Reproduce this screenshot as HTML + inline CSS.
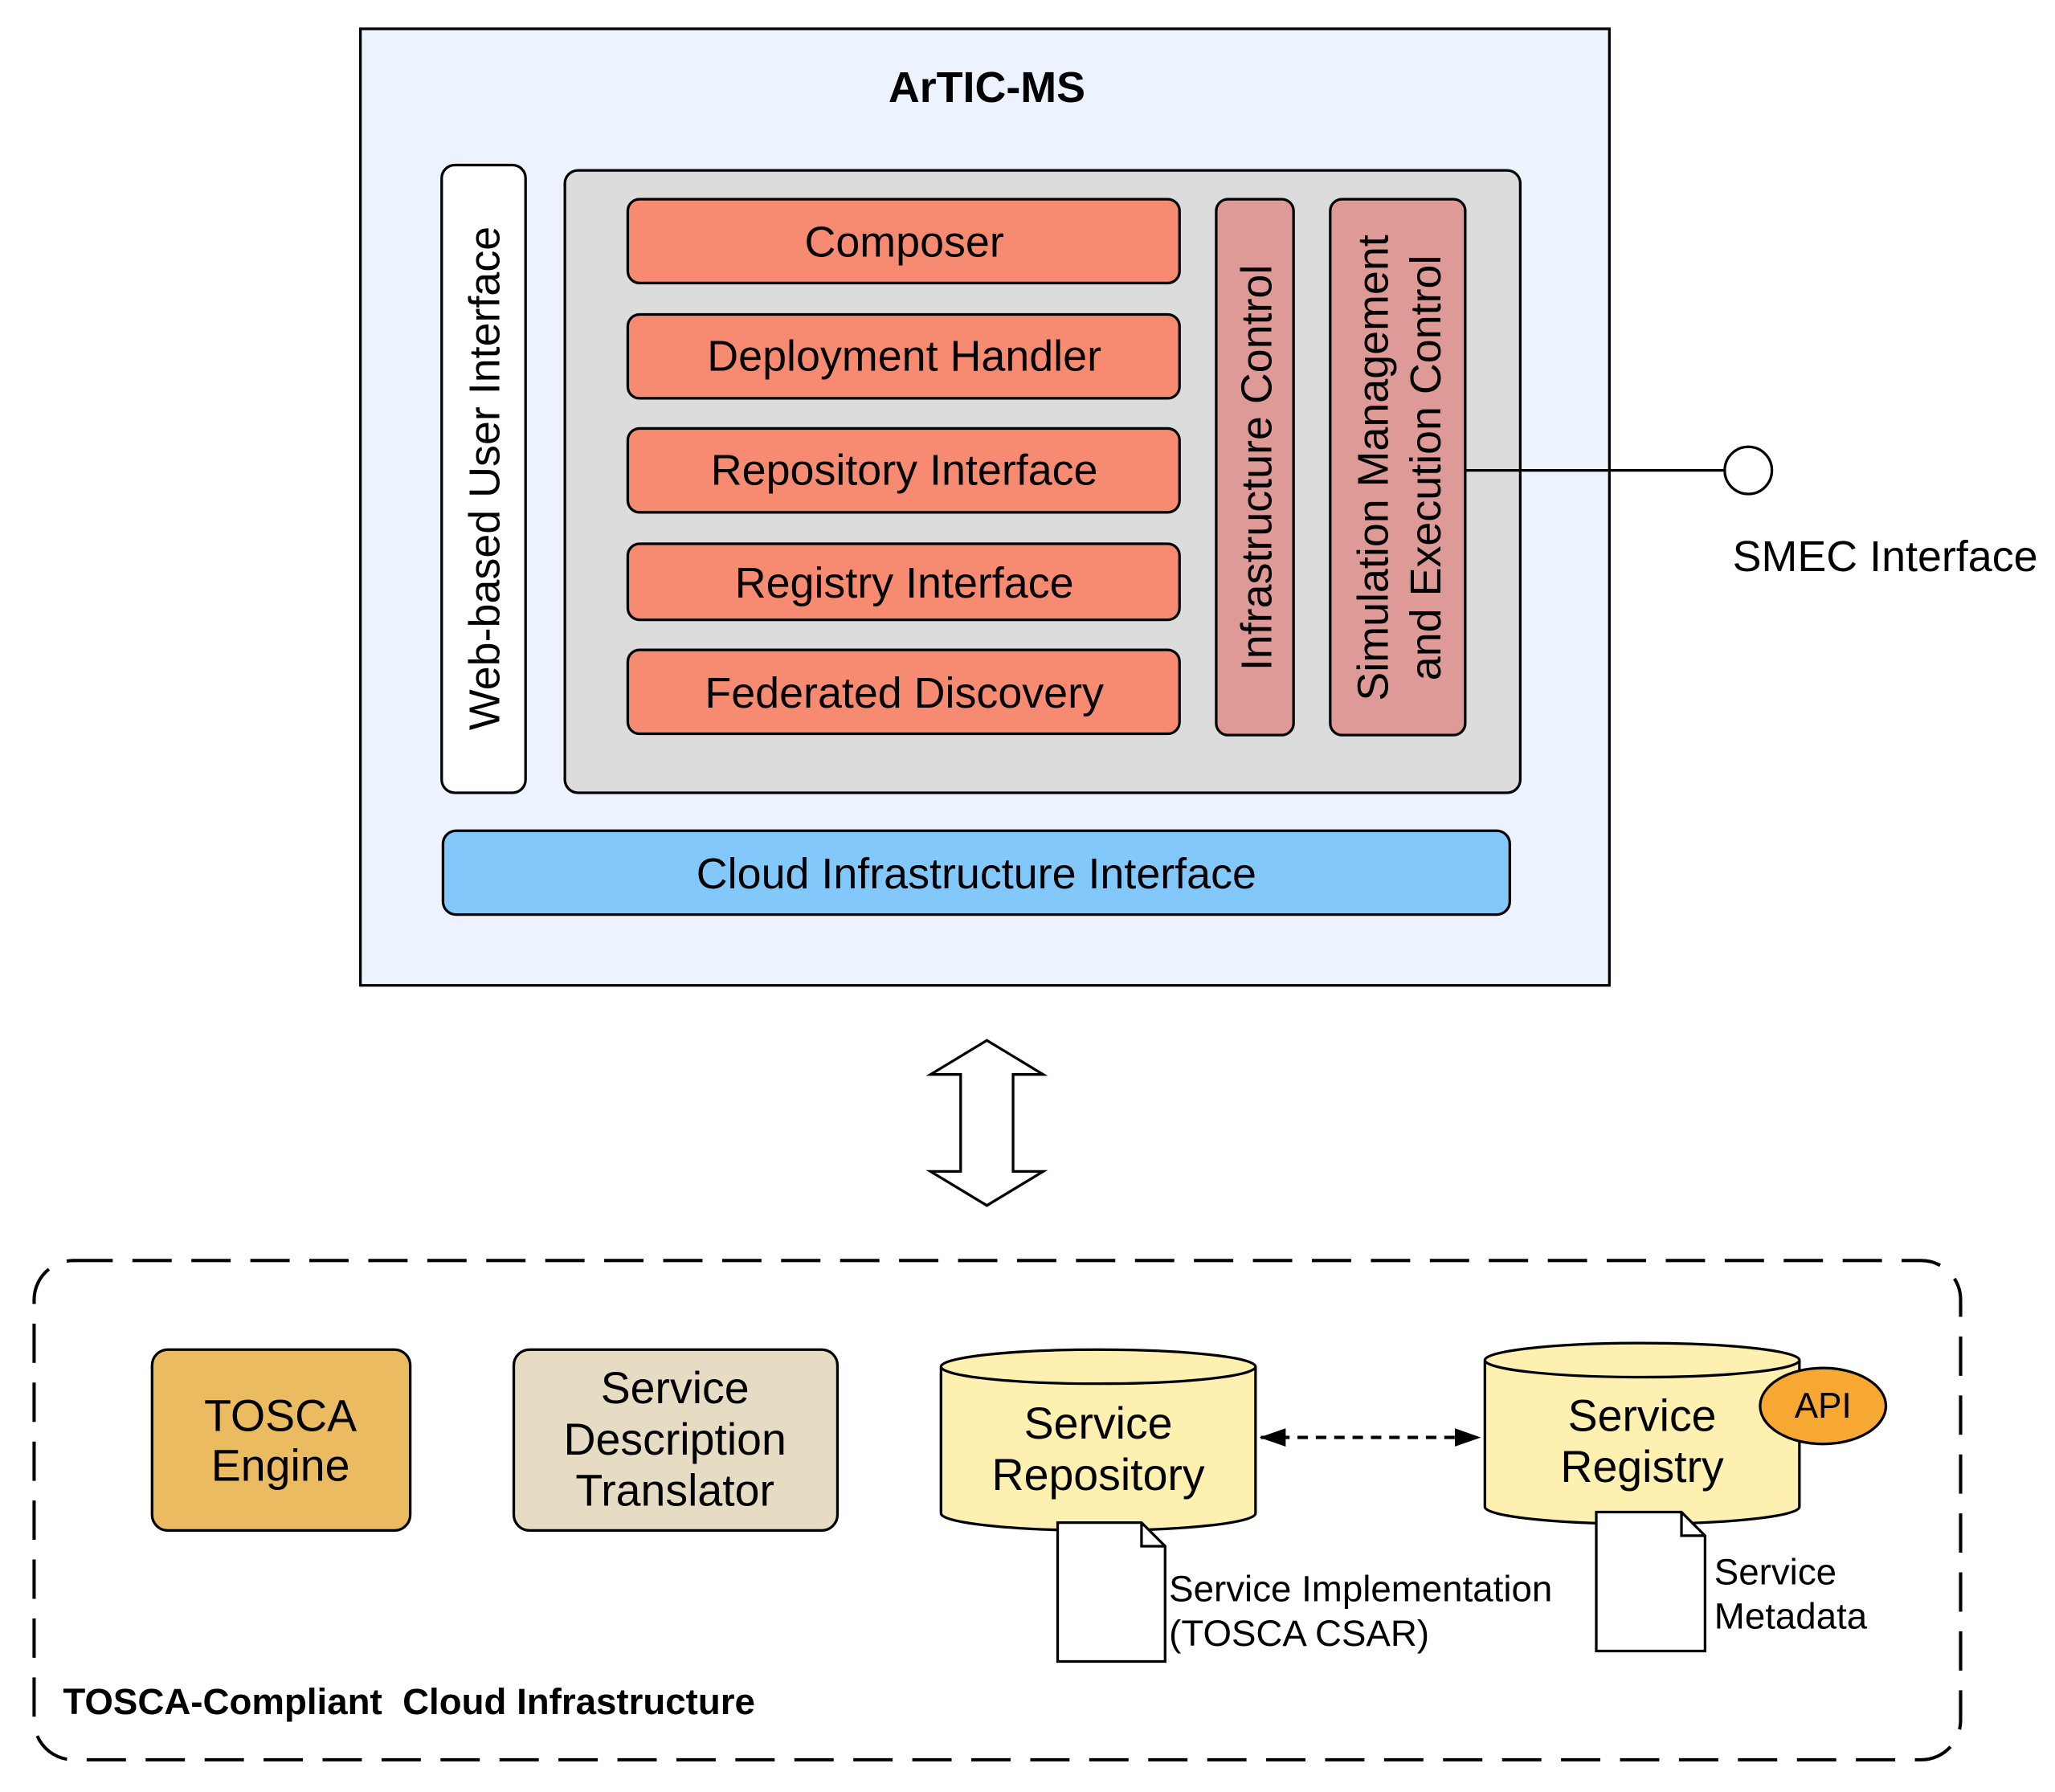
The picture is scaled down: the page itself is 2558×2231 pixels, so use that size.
<!DOCTYPE html>
<html><head><meta charset="utf-8"><style>
html,body{margin:0;padding:0;background:#fff;}
svg{display:block;}
text{font-family:"Liberation Sans",Helvetica,Arial,sans-serif;fill:#000;}
</style></head><body>
<svg width="2558" height="2231" viewBox="0 0 1568 1367.6" xmlns="http://www.w3.org/2000/svg">
<defs>
<marker id="ahs" markerWidth="20" markerHeight="14" refX="1" refY="7" orient="auto" markerUnits="userSpaceOnUse">
<path d="M20,0 L0,7 L20,14 z" fill="#000"/></marker>
<marker id="ahe" markerWidth="20" markerHeight="14" refX="19" refY="7" orient="auto" markerUnits="userSpaceOnUse">
<path d="M0,0 L20,7 L0,14 z" fill="#000"/></marker>
</defs>
<rect x="275" y="22" width="953" height="730" fill="#ecf3fe" stroke="#000" stroke-width="2"/>
<text x="753" y="78" font-size="33" font-weight="bold" text-anchor="middle">ArTIC-MS</text>

<rect x="337" y="126" width="64" height="479" rx="10" fill="#fff" stroke="#000" stroke-width="2"/>
<text transform="translate(381,365) rotate(-90)" font-size="33" text-anchor="middle">Web-based User Interface</text>

<rect x="431" y="130" width="729" height="475" rx="10" fill="#dcdcdc" stroke="#000" stroke-width="2"/>
<g fill="#f78b72" stroke="#000" stroke-width="2">
<rect x="479" y="152" width="421" height="64" rx="9"/>
<rect x="479" y="240" width="421" height="64" rx="9"/>
<rect x="479" y="327" width="421" height="64" rx="9"/>
<rect x="479" y="415" width="421" height="58" rx="9"/>
<rect x="479" y="496" width="421" height="64" rx="9"/>
</g>
<g font-size="33" text-anchor="middle">
<text x="690" y="196">Composer</text>
<text x="690" y="283">Deployment Handler</text>
<text x="690" y="370">Repository Interface</text>
<text x="690" y="456">Registry Interface</text>
<text x="690" y="540">Federated Discovery</text>
</g>
<rect x="928" y="152" width="59" height="409" rx="9" fill="#de9a96" stroke="#000" stroke-width="2"/>
<text transform="translate(970,357) rotate(-90)" font-size="33" text-anchor="middle">Infrastructure Control</text>
<rect x="1015" y="152" width="103" height="409" rx="9" fill="#de9a96" stroke="#000" stroke-width="2"/>
<text transform="translate(1059,357) rotate(-90)" font-size="33" text-anchor="middle">Simulation Management</text>
<text transform="translate(1099,357) rotate(-90)" font-size="33" text-anchor="middle">and Execution Control</text>

<line x1="1118" y1="359" x2="1316" y2="359" stroke="#000" stroke-width="2"/>
<circle cx="1334" cy="359" r="18" fill="#fff" stroke="#000" stroke-width="2"/>
<text x="1322" y="436" font-size="33">SMEC Interface</text>

<rect x="338" y="634" width="814" height="64" rx="10" fill="#83c8fa" stroke="#000" stroke-width="2"/>
<text x="745" y="678" font-size="33" text-anchor="middle">Cloud Infrastructure Interface</text>

<path d="M753,794 L796,820 L773,820 L773,894 L796,894 L753,920 L710,894 L733,894 L733,820 L710,820 Z" fill="#fff" stroke="#000" stroke-width="2"/>

<rect x="26" y="962" width="1470" height="381" rx="30" fill="none" stroke="#000" stroke-width="2.5" stroke-dasharray="30 15"/>

<rect x="116" y="1030" width="197" height="138" rx="12" fill="#ebbb62" stroke="#000" stroke-width="2"/>
<text x="214" y="1092" font-size="34" text-anchor="middle">TOSCA</text>
<text x="214" y="1130" font-size="34" text-anchor="middle">Engine</text>

<rect x="392" y="1030" width="247" height="138" rx="12" fill="#e5dcc3" stroke="#000" stroke-width="2"/>
<text x="515" y="1071" font-size="34" text-anchor="middle">Service</text>
<text x="515" y="1110" font-size="34" text-anchor="middle">Description</text>
<text x="515" y="1149" font-size="34" text-anchor="middle">Translator</text>

<path d="M718,1043 L718,1155 A120,13 0 0 0 958,1155 L958,1043" fill="#fdf0b0" stroke="#000" stroke-width="2"/>
<ellipse cx="838" cy="1043" rx="120" ry="13" fill="#fdf0b0" stroke="#000" stroke-width="2"/>
<text x="838" y="1098" font-size="34" text-anchor="middle">Service</text>
<text x="838" y="1137" font-size="34" text-anchor="middle">Repository</text>

<path d="M1133,1038 L1133,1150 A120,13 0 0 0 1373,1150 L1373,1038" fill="#fdf0b0" stroke="#000" stroke-width="2"/>
<ellipse cx="1253" cy="1038" rx="120" ry="13" fill="#fdf0b0" stroke="#000" stroke-width="2"/>
<text x="1253" y="1092" font-size="34" text-anchor="middle">Service</text>
<text x="1253" y="1131" font-size="34" text-anchor="middle">Registry</text>

<ellipse cx="1391" cy="1073" rx="48" ry="29" fill="#f7a832" stroke="#000" stroke-width="2"/>
<text x="1391" y="1082" font-size="27" text-anchor="middle">API</text>

<line x1="962" y1="1097" x2="1129" y2="1097" stroke="#000" stroke-width="2.5" stroke-dasharray="8 6" marker-start="url(#ahs)" marker-end="url(#ahe)"/>

<path d="M807,1162 L871,1162 L889,1180 L889,1268 L807,1268 Z" fill="#fff" stroke="#000" stroke-width="2"/>
<path d="M871,1162 L871,1180 L889,1180" fill="none" stroke="#000" stroke-width="2"/>
<text x="892" y="1222" font-size="28">Service Implementation</text>
<text x="892" y="1256" font-size="28">(TOSCA CSAR)</text>

<path d="M1218,1154 L1283,1154 L1301,1172 L1301,1260 L1218,1260 Z" fill="#fff" stroke="#000" stroke-width="2"/>
<path d="M1283,1154 L1283,1172 L1301,1172" fill="none" stroke="#000" stroke-width="2"/>
<text x="1308" y="1209" font-size="28">Service</text>
<text x="1308" y="1243" font-size="28">Metadata</text>

<text x="48" y="1308" font-size="28" font-weight="bold" xml:space="preserve">TOSCA-Compliant  Cloud Infrastructure</text>
</svg>
</body></html>
